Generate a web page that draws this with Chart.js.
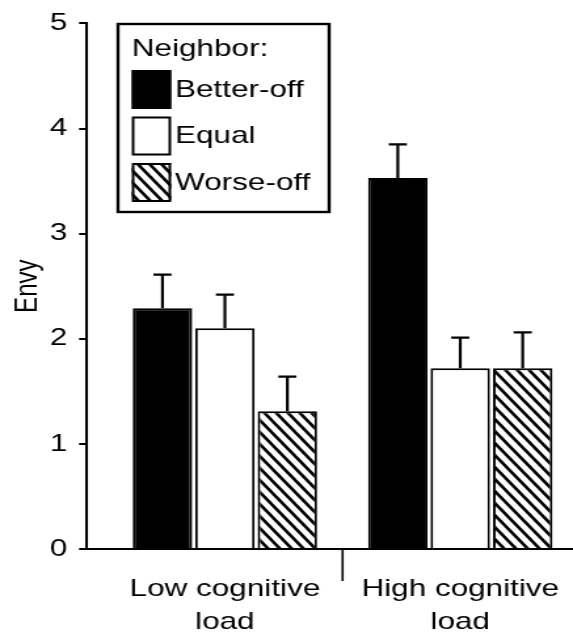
<!DOCTYPE html>
<html>
<head>
<meta charset="utf-8">
<script src="https://cdn.jsdelivr.net/npm/chart.js@4.4.1/dist/chart.umd.min.js"></script>
<style>
  html, body { margin: 0; padding: 0; background: #fff; overflow: hidden; }
  /* the figure is stretched sideways, so draw narrow and scale up */
  #wrap { width: 437px; height: 639px; transform: scaleX(1.3112); transform-origin: 0 0; }
</style>
</head>
<body>
<div id="wrap"><canvas id="chart"></canvas></div>
<script>
// data
const groups = [['Low cognitive', 'load'], ['High cognitive', 'load']];
const groupPos = [0, 1];
const neighbors = ['Better-off', 'Equal', 'Worse-off'];
const betterOff = [2.29, 3.53];
const equal = [2.10, 1.72];
const worseOff = [1.31, 1.72];
const betterOffErr = [0.32, 0.32];
const equalErr = [0.32, 0.29];
const worseOffErr = [0.33, 0.34];
const yTicks = [0, 1, 2, 3, 4, 5];

const FONT = "'Liberation Sans', Arial, sans-serif";

// diagonal hatch fill for "Worse-off"
function hatch() {
  const w = 9, h = 12;
  const c = document.createElement('canvas');
  c.width = w; c.height = h;
  const g = c.getContext('2d');
  g.fillStyle = '#fff';
  g.fillRect(0, 0, w, h);
  g.strokeStyle = '#000';
  g.lineWidth = 2.6;
  g.beginPath();
  for (const [dx, dy] of [[0, 0], [-w, 0], [w, 0], [0, -h], [0, h]]) {
    g.moveTo(dx - w, dy - h);
    g.lineTo(dx + 2 * w, dy + 2 * h);
  }
  g.stroke();
  return g.createPattern(c, 'repeat');
}

const points = vals => vals.map((v, i) => ({ x: groupPos[i], y: v }));

// error bars (upper half only) and the group divider under the axis
const errorBars = {
  id: 'errorBars',
  afterDatasetsDraw(chart) {
    const c = chart.ctx;
    const x = chart.scales.x;
    const y = chart.scales.y;
    c.save();
    c.strokeStyle = '#000';
    c.lineWidth = 2.2;
    chart.data.datasets.forEach((ds, di) => {
      chart.getDatasetMeta(di).data.forEach((bar, i) => {
        const top = y.getPixelForValue(ds.data[i].y + ds.errors[i]);
        c.beginPath();
        c.moveTo(bar.x, bar.y);
        c.lineTo(bar.x, top);
        c.moveTo(bar.x - 6.9, top);
        c.lineTo(bar.x + 6.9, top);
        c.stroke();
      });
    });
    const mid = x.getPixelForValue((groupPos[0] + groupPos[1]) / 2);
    c.lineWidth = 1.6;
    c.beginPath();
    c.moveTo(mid, chart.chartArea.bottom);
    c.lineTo(mid, chart.chartArea.bottom + 32);
    c.stroke();
    c.restore();
  }
};

// boxed legend with title, inside the plot
const boxLegend = {
  id: 'boxLegend',
  afterDraw(chart) {
    const c = chart.ctx;
    c.save();
    c.strokeStyle = '#000';
    c.lineWidth = 2.4;
    c.strokeRect(90, 24, 161, 188);
    c.fillStyle = '#000';
    c.font = '24px ' + FONT;
    c.textBaseline = 'middle';
    c.fillText('Neighbor:', 100.5, 49);
    chart.data.datasets.forEach((ds, i) => {
      const top = 70 + i * 46.5;
      c.fillStyle = ds.backgroundColor;
      c.fillRect(100.5, top, 30, 39);
      c.lineWidth = 2;
      c.strokeRect(101.5, top + 1, 28, 37);
      c.fillStyle = '#000';
      c.fillText(ds.label, 133.5, top + 20);
    });
    c.restore();
  }
};

new Chart(document.getElementById('chart'), {
  type: 'bar',
  data: {
    datasets: [
      { label: neighbors[0], data: points(betterOff), errors: betterOffErr, backgroundColor: '#000' },
      { label: neighbors[1], data: points(equal), errors: equalErr, backgroundColor: '#fff' },
      { label: neighbors[2], data: points(worseOff), errors: worseOffErr, backgroundColor: hatch() }
    ]
  },
  options: {
    responsive: true,
    maintainAspectRatio: false,
    animation: false,
    layout: { padding: { top: 20.6, right: 1, bottom: 0, left: 0 } },
    datasets: {
      bar: {
        borderColor: '#000',
        borderWidth: 2,
        categoryPercentage: 0.796,
        barPercentage: 0.952
      }
    },
    plugins: { legend: { display: false }, tooltip: { enabled: false } },
    scales: {
      x: {
        type: 'linear',
        min: -0.5902,
        max: 1.4735,
        offset: false,
        afterBuildTicks: s => { s.ticks = groupPos.map(v => ({ value: v })); },
        afterFit: s => { s.height = 90; },
        border: { color: '#000', width: 2 },
        grid: { offset: false, display: false, drawTicks: true, tickLength: 32 },
        ticks: {
          autoSkip: false,
          maxRotation: 0,
          padding: -8,
          color: '#000',
          font: { family: FONT, size: 24, lineHeight: 1.375 },
          callback: v => groups[groupPos.indexOf(v)] || ''
        }
      },
      y: {
        min: 0,
        max: 5,
        afterBuildTicks: s => { s.ticks = yTicks.map(v => ({ value: v })); },
        afterFit: s => { s.width = 65.6; },
        border: { color: '#000', width: 2 },
        grid: { drawOnChartArea: false, tickLength: 5.3, color: '#000', lineWidth: 2 },
        ticks: { padding: 9, color: '#000', font: { family: FONT, size: 24 } },
        title: {
          display: true,
          text: 'Envy',
          color: '#000',
          padding: { top: 7, bottom: 0 },
          font: { family: FONT, size: 24 }
        }
      }
    }
  },
  plugins: [errorBars, boxLegend]
});
</script>
</body>
</html>
